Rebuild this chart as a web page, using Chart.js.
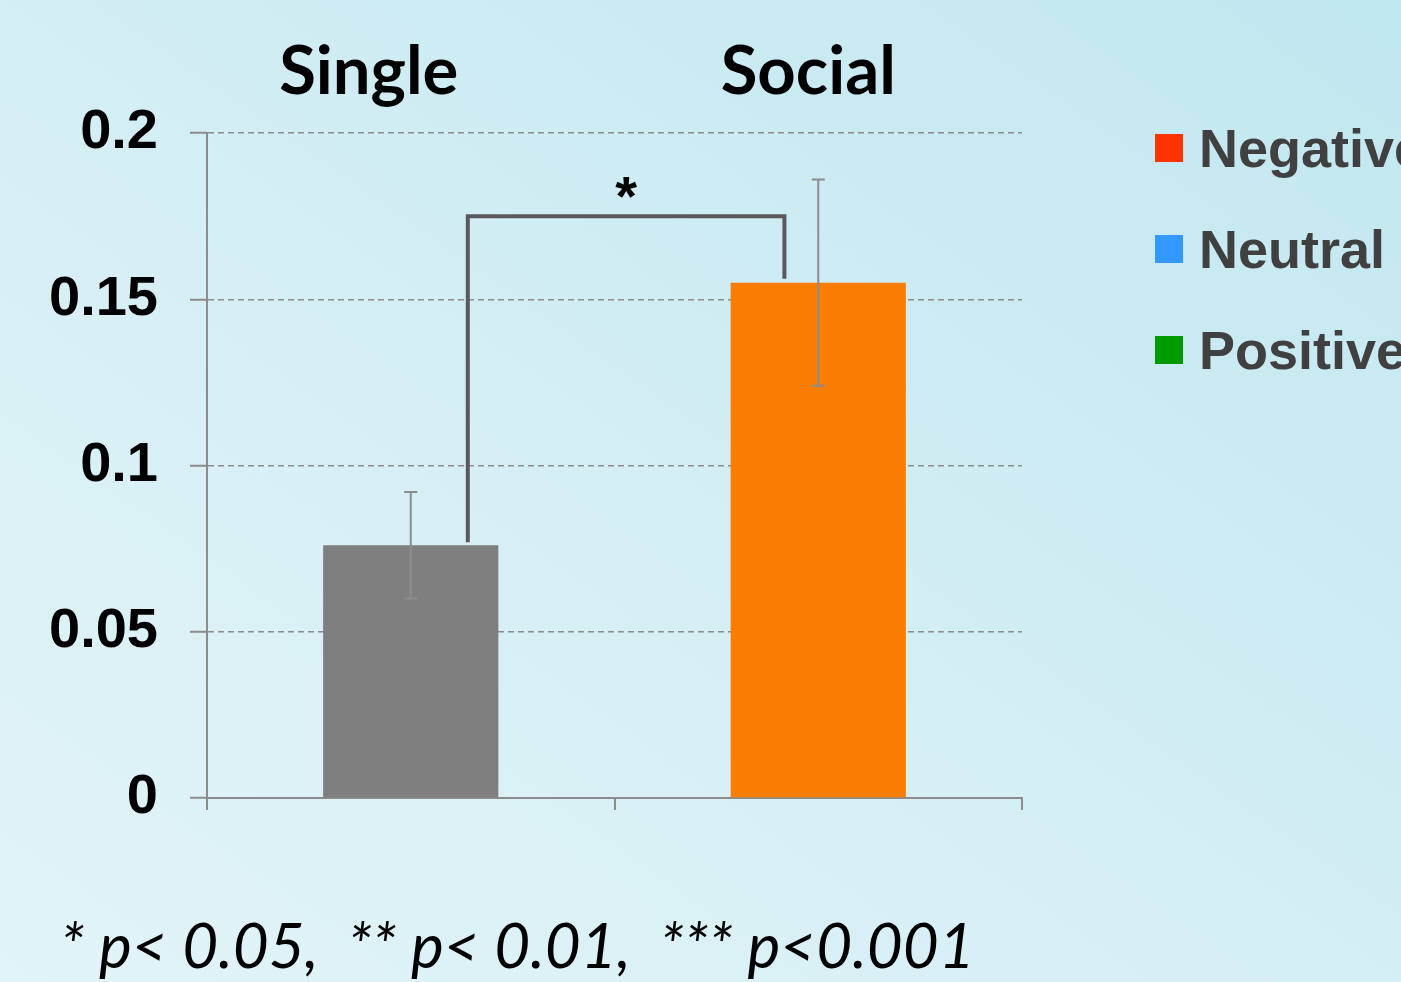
<!DOCTYPE html>
<html>
<head>
<meta charset="utf-8">
<title>Single vs Social</title>
<script src="https://cdn.jsdelivr.net/npm/chart.js@4.4.0/dist/chart.umd.min.js"></script>
<style>
    html, body { margin: 0; padding: 0; width: 1401px; height: 982px; overflow: hidden; }
    body {
        position: relative;
        background: linear-gradient(to top right, #e2f4f8 0%, #d3eef4 50%, #c1e7f0 100%);
    }
    #wrap { position: absolute; left: 0; top: 0; width: 1401px; height: 982px; }
    .legend-item {
        position: absolute; left: 1155px; white-space: nowrap;
        font: bold 54px "Liberation Sans", Arial, sans-serif; line-height: 54px; color: #404040;
    }
    .legend-item i { position: absolute; left: 0; width: 28px; height: 28px; }
    .legend-item span { position: absolute; left: 44px; top: 0; }
    #note {
        position: absolute; left: 60px; top: 913px; white-space: pre;
        font: italic 62px Lato, "Open Sans", sans-serif; line-height: 62px; color: #000;
    }
</style>
</head>
<body>
<div id="wrap"><canvas id="bars" width="1401" height="982"></canvas></div>
<div id="legend"></div>
<div id="note"></div>
<script>
// data
const categories = ['Single', 'Social']
const means = [0.076, 0.155]
const errors = [0.016, 0.031]
const barColors = ['#7f7f7f', '#f97d00']
const yTicks = [0, 0.05, 0.1, 0.15, 0.2]
const legendLabels = ['Negative', 'Neutral', 'Positive']
const legendColors = ['#ff3300', '#3399ff', '#009900']
const sigLevel = 0.175
const sigLabel = '*'
const noteText = '* p< 0.05,  ** p< 0.01,  *** p<0.001'

// legend + footnote as html text
let legend = document.getElementById('legend')
legendLabels.forEach((lab, i) => {
    let d = document.createElement('div')
    d.className = 'legend-item'
    d.style.top = (121 + i * 101) + 'px'
    d.innerHTML = '<i style="background:' + legendColors[i] + ';top:13px"></i><span>' + lab + '</span>'
    legend.appendChild(d)
})
document.getElementById('note').textContent = noteText

// error bars, significance bracket, category titles
const extras = {
    id: 'extras',
    afterDatasetsDraw(chart) {
        const ctx = chart.ctx
        const x = chart.scales.x
        const y = chart.scales.y
        ctx.save()
        // error bars
        ctx.strokeStyle = '#8c8c8c'
        ctx.lineWidth = 2
        means.forEach((m, i) => {
            let px = x.getPixelForValue(i)
            let top = y.getPixelForValue(m + errors[i])
            let bot = y.getPixelForValue(m - errors[i])
            ctx.beginPath()
            ctx.moveTo(px, top); ctx.lineTo(px, bot)
            ctx.moveTo(px - 6.5, top); ctx.lineTo(px + 6.5, top)
            ctx.moveTo(px - 6.5, bot); ctx.lineTo(px + 6.5, bot)
            ctx.stroke()
        })
        // bracket
        let x1 = x.getPixelForValue(0.14)
        let x2 = x.getPixelForValue(1 - 0.083)
        let yb = y.getPixelForValue(sigLevel)
        ctx.strokeStyle = '#595959'
        ctx.lineWidth = 4
        ctx.lineJoin = 'miter'
        ctx.beginPath()
        ctx.moveTo(x1, y.getPixelForValue(means[0]) - 3)
        ctx.lineTo(x1, yb)
        ctx.lineTo(x2, yb)
        ctx.lineTo(x2, y.getPixelForValue(means[1]) - 4)
        ctx.stroke()
        ctx.fillStyle = '#000'
        ctx.font = 'bold 56px "Liberation Sans", Arial, sans-serif'
        ctx.textAlign = 'center'
        ctx.textBaseline = 'alphabetic'
        ctx.fillText(sigLabel, (x1 + x2) / 2, yb - 1)
        // titles above the plot
        const nudge = [-42, -10]
        ctx.font = 'bold 67px Lato, "Open Sans", sans-serif'
        categories.forEach((c, i) => {
            ctx.fillText(c, x.getPixelForValue(i) + nudge[i], 94)
        })
        ctx.restore()
    }
}

window.onload = function () {
    let canvas = document.getElementById('bars')
    new Chart(canvas, {
        type: 'bar',
        data: {
            labels: categories,
            datasets: [{
                data: means,
                backgroundColor: barColors,
                borderWidth: 0,
                categoryPercentage: 1,
                barPercentage: 0.43
            }]
        },
        options: {
            responsive: false,
            animation: false,
            layout: { padding: { left: 0, top: 133, right: 379, bottom: 154 } },
            plugins: { legend: { display: false }, tooltip: { enabled: false } },
            scales: {
                x: {
                    offset: true,
                    grid: { offset: true, drawOnChartArea: false, tickLength: 12, color: '#8c8c8c', lineWidth: 2 },
                    border: { color: '#8c8c8c', width: 2 },
                    ticks: { display: false },
                    afterFit(s) { s.height = 30 }
                },
                y: {
                    min: 0,
                    max: 0.2,
                    afterBuildTicks(s) { s.ticks = yTicks.map(v => ({ value: v })) },
                    grid: {
                        color: '#8c8c8c', lineWidth: 1.5, tickLength: 17,
                        tickColor: '#8c8c8c', tickBorderDash: [], tickWidth: 2
                    },
                    border: { color: '#8c8c8c', width: 2, dash: [6, 4] },
                    ticks: {
                        padding: 32,
                        color: '#000',
                        font: { family: '"Liberation Sans", Arial, sans-serif', weight: 'bold', size: 56 },
                        callback: v => String(v)
                    },
                    afterFit(s) { s.width = 207 }
                }
            }
        },
        plugins: [extras]
    })
}
</script>
</body>
</html>
